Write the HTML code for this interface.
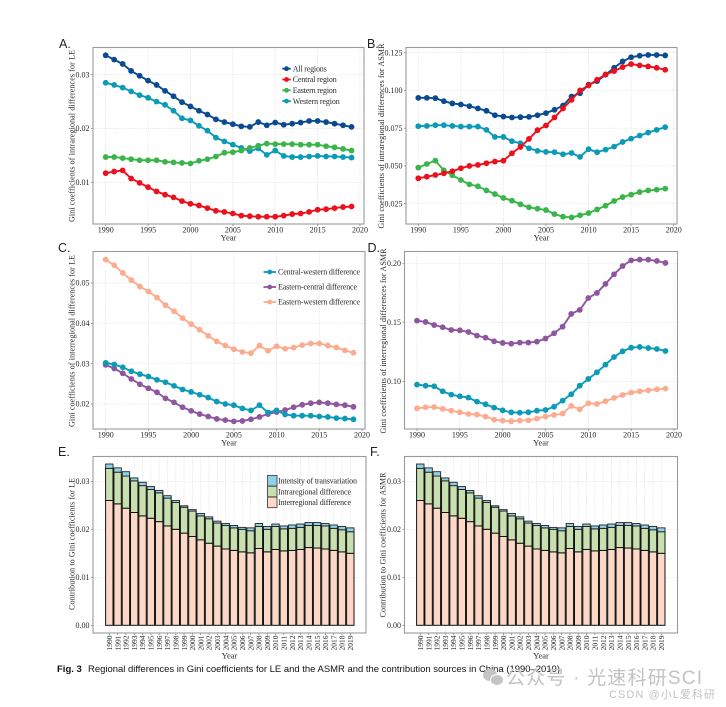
<!DOCTYPE html>
<html lang="en">
<head>
<meta charset="utf-8">
<title>Regional differences in Gini coefficients</title>
<style>
html,body{margin:0;padding:0;background:#fff;width:726px;height:707px;overflow:hidden}
svg{display:block}
text{font-family:"Liberation Serif","Noto Serif CJK SC",serif;fill:#2a2a2a;font-size:8px}
.lab{font-family:"Liberation Sans",sans-serif;font-size:12.5px;fill:#222}
.cap{font-family:"Liberation Sans",sans-serif;font-size:9.5px;fill:#111}
.wm{font-family:"Liberation Sans","Noto Sans CJK SC",sans-serif;fill:#c2c2c2}
</style>
</head>
<body>
<svg id="chart" xmlns="http://www.w3.org/2000/svg" width="726" height="707" viewBox="0 0 726 707">
<rect width="726" height="707" fill="#fff"/>
<g id="plots"></g>

<text class="cap" x="57" y="672" style="font-weight:700">Fig. 3</text>
<text class="cap" x="88" y="672" textLength="472" lengthAdjust="spacingAndGlyphs">Regional differences in Gini coefficients for LE and the ASMR and the contribution sources in China (1990–2019)</text>

<g fill="#c4c4c4">
<ellipse cx="490" cy="675" rx="7" ry="6"/>
<ellipse cx="497" cy="680" rx="6.5" ry="5.5" stroke="#fff" stroke-width="1"/>
</g>
<text class="wm" x="506" y="684" style="font-size:19px" textLength="196" lengthAdjust="spacing">公众号 · 光速科研SCI</text>
<text class="wm" x="609" y="698" style="font-size:11px" textLength="106" lengthAdjust="spacing">CSDN @小L爱科研</text>
</svg>

<script>
const years = [1990,1991,1992,1993,1994,1995,1996,1997,1998,1999,2000,2001,2002,2003,2004,2005,2006,2007,2008,2009,2010,2011,2012,2013,2014,2015,2016,2017,2018,2019];
const xTickYears = [1990,1995,2000,2005,2010,2015,2020];

/* Panel A */
const aAll = [.0336,.0328,.0320,.0307,.0298,.0289,.0281,.0270,.0260,.0249,.0241,.0233,.0226,.0217,.0212,.0208,.0204,.0203,.0212,.0206,.0211,.0207,.0209,.0211,.0214,.0214,.0212,.0209,.0206,.0203];
const aCentral = [.0117,.0120,.0122,.0107,.0099,.0091,.0083,.0077,.0072,.0065,.0060,.0057,.0052,.0047,.0045,.0042,.0038,.0037,.0036,.0036,.0036,.0038,.0041,.0042,.0045,.0049,.0050,.0052,.0054,.0055];
const aEastern = [.0147,.0147,.0145,.0143,.0141,.0141,.0141,.0138,.0137,.0136,.0135,.0140,.0143,.0148,.0155,.0156,.0159,.0164,.0168,.0172,.0171,.0171,.0171,.0170,.0170,.0170,.0167,.0165,.0162,.0159];
const aWestern = [.0285,.0281,.0276,.0269,.0262,.0257,.0250,.0244,.0233,.0219,.0215,.0205,.0196,.0183,.0176,.0170,.0164,.0158,.0163,.0151,.0159,.0149,.0147,.0147,.0148,.0149,.0148,.0148,.0147,.0146];
const aTicks = [.01,.02,.03];
const aTickLabels = ['0.01','0.02','0.03'];

/* Panel B */
const bAll = [.0951,.0951,.0949,.0929,.0914,.0907,.0896,.0881,.0865,.0836,.0827,.0821,.0823,.0825,.0836,.0850,.0872,.0900,.0960,.0982,.1038,.1062,.1104,.1150,.1192,.1220,.1230,.1235,.1235,.1232];
const bCentral = [.0418,.0429,.0440,.0451,.0465,.0485,.0500,.0507,.0518,.0529,.0535,.0584,.0626,.0679,.0737,.0768,.0821,.0881,.0938,.1000,.1033,.1071,.1106,.1128,.1155,.1175,.1166,.1159,.1150,.1137];
const bEastern = [.0489,.0513,.0535,.0471,.0438,.0407,.0378,.0365,.0338,.0314,.0288,.0270,.0246,.0226,.0217,.0208,.0181,.0164,.0159,.0173,.0188,.0212,.0237,.0268,.0294,.0310,.0327,.0338,.0343,.0350];
const bWestern = [.0763,.0765,.0770,.0770,.0765,.0761,.0761,.0761,.0739,.0692,.0692,.0664,.0650,.0617,.0600,.0593,.0591,.0577,.0586,.0560,.0611,.0591,.0608,.0628,.0659,.0681,.0701,.0721,.0739,.0757];
const bTicks = [.025,.05,.075,.1,.125];
const bTickLabels = ['0.025','0.050','0.075','0.100','0.125'];

/* Panel C */
const cCentralWestern = [.0302,.0298,.0291,.0281,.0274,.0268,.0260,.0254,.0245,.0236,.0230,.0223,.0216,.0206,.0200,.0197,.0189,.0184,.0197,.0179,.0184,.0174,.0171,.0171,.0171,.0169,.0168,.0165,.0164,.0162];
const cEasternCentral = [.0297,.0288,.0276,.0262,.0249,.0239,.0229,.0214,.0204,.0192,.0183,.0175,.0169,.0163,.0160,.0157,.0158,.0162,.0168,.0175,.0180,.0185,.0192,.0198,.0202,.0204,.0202,.0199,.0197,.0193];
const cEasternWestern = [.0558,.0544,.0525,.0507,.0491,.0479,.0464,.0445,.0430,.0413,.0398,.0384,.0369,.0355,.0345,.0336,.0329,.0326,.0345,.0332,.0343,.0337,.0340,.0346,.0350,.0350,.0345,.0340,.0333,.0327];
const cTicks = [.02,.03,.04,.05];
const cTickLabels = ['0.02','0.03','0.04','0.05'];

/* Panel D */
const dEasternCentral = [.1514,.1503,.1477,.1458,.1435,.1432,.1418,.1387,.1370,.1339,.1325,.1319,.1328,.1328,.1336,.1362,.1407,.1463,.1571,.1605,.1706,.1749,.1825,.1907,.1977,.2025,.2031,.2031,.2020,.2003];
const dCentralWestern = [.0972,.0963,.0958,.0915,.0887,.0873,.0862,.0828,.0805,.0777,.0754,.0737,.0734,.0737,.0751,.0757,.0785,.0836,.0890,.0963,.1020,.1076,.1141,.1206,.1254,.1285,.1291,.1282,.1274,.1257];
const dEasternWestern = [.0771,.0780,.0782,.0766,.0751,.0737,.0723,.0718,.0701,.0675,.0667,.0661,.0667,.0669,.0684,.0701,.0715,.0726,.0791,.0763,.0814,.0808,.0831,.0859,.0884,.0904,.0915,.0924,.0932,.0938];
const dTicks = [.1,.15,.2];
const dTickLabels = ['0.10','0.15','0.20'];

/* Panels E and F: stacked contributions */
const eInter = [.0260,.0253,.0244,.0235,.0228,.0223,.0216,.0207,.0200,.0192,.0185,.0178,.0171,.0165,.0159,.0156,.0153,.0151,.0160,.0153,.0158,.0155,.0156,.0158,.0162,.0161,.0159,.0156,.0153,.0150];
const eIntra = [.0067,.0066,.0067,.0066,.0063,.0060,.0060,.0058,.0056,.0054,.0053,.0050,.0051,.0048,.0049,.0047,.0047,.0046,.0046,.0047,.0048,.0046,.0046,.0046,.0046,.0047,.0048,.0046,.0046,.0045];
const eTrans = [.0009,.0009,.0009,.0006,.0007,.0006,.0005,.0005,.0004,.0003,.0003,.0005,.0004,.0004,.0004,.0005,.0004,.0006,.0006,.0006,.0005,.0006,.0007,.0007,.0006,.0006,.0005,.0007,.0007,.0008];
const fInter = [.0260,.0253,.0244,.0235,.0228,.0223,.0216,.0207,.0200,.0192,.0185,.0178,.0171,.0165,.0159,.0156,.0153,.0151,.0160,.0153,.0158,.0155,.0156,.0158,.0162,.0161,.0159,.0156,.0153,.0150];
const fIntra = [.0067,.0066,.0067,.0066,.0063,.0060,.0060,.0058,.0056,.0054,.0053,.0050,.0051,.0048,.0049,.0047,.0047,.0046,.0046,.0047,.0048,.0046,.0046,.0046,.0046,.0047,.0048,.0046,.0046,.0045];
const fTrans = [.0009,.0009,.0009,.0006,.0007,.0006,.0005,.0005,.0004,.0003,.0003,.0005,.0004,.0004,.0004,.0005,.0004,.0006,.0006,.0006,.0005,.0006,.0007,.0007,.0006,.0006,.0005,.0007,.0007,.0008];
const stackTicks = [0,.01,.02,.03];
const stackTickLabels = ['0.00','0.01','0.02','0.03'];

const COL = {all:'#0a4a90',central:'#ec0f1c',eastern:'#39b54a',western:'#0c9bb6',purple:'#8e569f',salmon:'#fcab8e',inter:'#fdd8c7',intra:'#c8e0b0',trans:'#8ed2ea'};
const root = document.getElementById('plots');
const NS = 'http://www.w3.org/2000/svg';

function make(parent, tag, attrs, name) {
  const el = document.createElementNS(NS, tag);
  for (const k in attrs) el.setAttribute(k, attrs[k]);
  
  
  parent.appendChild(el);
  return el;
}
function label(parent, str, attrs, name) {
  const t = make(parent, 'text', attrs, name);
  t.textContent = str;
  return t;
}
function linearScale(v0, p0, v1, p1) {
  return v => p0 + (v - v0) * (p1 - p0) / (v1 - v0);
}

function frame(g, box, id) {
  make(g, 'rect', {x:box.l, y:box.t, width:box.r-box.l, height:box.b-box.t, fill:'#fff'}, id + '-plot-area');
}
function border(g, box, id) {
  make(g, 'rect', {x:box.l, y:box.t, width:box.r-box.l, height:box.b-box.t, fill:'none', stroke:'#9a9a9a', 'stroke-width':1.1}, id + '-panel-border');
}
function gridLine(g, x1, y1, x2, y2, name) {
  make(g, 'line', {x1, y1, x2, y2, stroke:'#dcdcdc', 'stroke-width':0.7, 'stroke-dasharray':'1 1.2'}, name);
}
function yAxis(g, box, y, ticks, labels, id) {
  ticks.forEach((v, i) => {
    gridLine(g, box.l, y(v), box.r, y(v), id + '-y-grid');
    make(g, 'line', {x1:box.l-2, y1:y(v), x2:box.l, y2:y(v), stroke:'#777', 'stroke-width':0.7}, id + '-y-tick');
    label(g, labels[i], {x:box.l-3.5, y:y(v)+2.7, 'text-anchor':'end'}, id + '-y-tick-label');
  });
}
function yTitle(g, cfg, id) {
  label(g, cfg.text, {transform:'translate(' + cfg.x + ',' + cfg.cy + ') rotate(-90)', 'text-anchor':'middle', textLength:cfg.len, lengthAdjust:'spacing'}, id + '-y-axis-title');
}
function panelLetter(g, cfg, id) {
  label(g, cfg.text, {x:cfg.x, y:cfg.y, class:'lab'}, id + '-panel-label');
}

function linePanel(cfg) {
  const g = make(root, 'g', {}, cfg.id);
  const box = cfg.box;
  frame(g, box, cfg.id);
  const x = linearScale(xTickYears[0], cfg.x0, xTickYears[xTickYears.length-1], cfg.x1);
  const y = linearScale(cfg.yA[0], cfg.yA[1], cfg.yB[0], cfg.yB[1]);
  xTickYears.forEach(yr => {
    gridLine(g, x(yr), box.t, x(yr), box.b, cfg.id + '-x-grid');
    make(g, 'line', {x1:x(yr), y1:box.b, x2:x(yr), y2:box.b+2, stroke:'#777', 'stroke-width':0.7}, cfg.id + '-x-tick');
    label(g, String(yr), {x:x(yr), y:box.b+8.5, 'text-anchor':'middle'}, cfg.id + '-x-tick-label');
  });
  yAxis(g, box, y, cfg.ticks, cfg.tickLabels, cfg.id);
  cfg.series.forEach(s => {
    const sg = make(g, 'g', {}, cfg.id + '-series-' + s.name);
    const pts = s.values.map((v, i) => x(years[i]).toFixed(2) + ',' + y(v).toFixed(2)).join(' ');
    make(sg, 'polyline', {points:pts, fill:'none', stroke:s.color, 'stroke-width':1.9, 'stroke-linejoin':'round'}, cfg.id + '-line-' + s.name);
    s.values.forEach((v, i) => {
      make(sg, 'circle', {cx:x(years[i]), cy:y(v), r:2.9, fill:s.color}, cfg.id + '-point-' + s.name);
    });
  });
  border(g, box, cfg.id);
  label(g, 'Year', {x:(box.l+box.r)/2, y:box.b+16.5, 'text-anchor':'middle', style:'font-size:8.5px'}, cfg.id + '-x-axis-title');
  yTitle(g, cfg.title, cfg.id);
  panelLetter(g, cfg.letter, cfg.id);
  if (cfg.legend) {
    const L = cfg.legend;
    const lg = make(g, 'g', {}, cfg.id + '-legend');
    L.items.forEach((it, i) => {
      const ly = L.y + i * L.dy;
      make(lg, 'line', {x1:L.x, y1:ly, x2:L.x+L.w, y2:ly, stroke:it.color, 'stroke-width':1.8}, 'legend-key-line');
      make(lg, 'circle', {cx:L.x+L.w/2, cy:ly, r:2.4, fill:it.color}, 'legend-key-point');
      label(lg, it.text, {x:L.x+L.w+2, y:ly+2.7, textLength:it.len, lengthAdjust:'spacing'}, 'legend-entry');
    });
  }
}

function stackPanel(cfg) {
  const g = make(root, 'g', {}, cfg.id);
  const box = cfg.box;
  frame(g, box, cfg.id);
  const x = linearScale(years[0], cfg.x0, years[years.length-1], cfg.x1);
  const y = linearScale(0, cfg.y0, .03, cfg.y3);
  const bw = 7.4;
  years.forEach(yr => {
    gridLine(g, x(yr), box.t, x(yr), box.b, cfg.id + '-x-grid');
  });
  yAxis(g, box, y, stackTicks, stackTickLabels, cfg.id);
  years.forEach((yr, i) => {
    const a = cfg.inter[i], b = a + cfg.intra[i], c = b + cfg.trans[i];
    const bg = make(g, 'g', {}, cfg.id + '-bar-' + yr);
    make(bg, 'rect', {x:x(yr)-bw/2, y:y(a), width:bw, height:y(0)-y(a), fill:COL.inter, stroke:'#111', 'stroke-width':1}, cfg.id + '-bar-interregional');
    make(bg, 'rect', {x:x(yr)-bw/2, y:y(b), width:bw, height:y(a)-y(b), fill:COL.intra, stroke:'#111', 'stroke-width':1}, cfg.id + '-bar-intraregional');
    make(bg, 'rect', {x:x(yr)-bw/2, y:y(c), width:bw, height:y(b)-y(c), fill:COL.trans, stroke:'#222', 'stroke-width':0.9}, cfg.id + '-bar-transvariation');
    make(g, 'line', {x1:x(yr), y1:box.b, x2:x(yr), y2:box.b+2, stroke:'#777', 'stroke-width':0.7}, cfg.id + '-x-tick');
    label(g, String(yr), {transform:'translate(' + (x(yr)+2.7) + ',' + (box.b+2.5) + ') rotate(-90)', 'text-anchor':'end', style:'font-size:7.5px'}, cfg.id + '-x-tick-label');
  });
  border(g, box, cfg.id);
  label(g, 'Year', {x:(box.l+box.r)/2, y:box.b+25.5, 'text-anchor':'middle', style:'font-size:8.5px'}, cfg.id + '-x-axis-title');
  yTitle(g, cfg.title, cfg.id);
  panelLetter(g, cfg.letter, cfg.id);
  if (cfg.legend) {
    const lg = make(g, 'g', {}, cfg.id + '-legend');
    cfg.legend.forEach((it, i) => {
      const ly = 475.5 + i * 10.8;
      make(lg, 'rect', {x:267.5, y:ly, width:9.5, height:10.5, fill:it.color, stroke:'#555', 'stroke-width':1}, 'legend-swatch');
      label(lg, it.text, {x:278, y:ly+8, textLength:it.len, lengthAdjust:'spacing'}, 'legend-entry');
    });
  }
}

linePanel({
  id:'panel-a', box:{l:93,r:364,t:47.5,b:224}, x0:105.7, x1:360, yA:[.01,182.3], yB:[.03,74.7],
  ticks:aTicks, tickLabels:aTickLabels,
  series:[
    {name:'western',values:aWestern,color:COL.western},
    {name:'eastern',values:aEastern,color:COL.eastern},
    {name:'central',values:aCentral,color:COL.central},
    {name:'all',values:aAll,color:COL.all}
  ],
  title:{text:'Gini coefficients of intraregional differences for LE',x:74.5,cy:136,len:172},
  letter:{text:'A.',x:59,y:48},
  legend:{x:282.3,w:8.4,y:68.7,dy:10.8,items:[
    {text:'All regions',color:COL.all,len:34},
    {text:'Central region',color:COL.central,len:44},
    {text:'Eastern region',color:COL.eastern,len:44},
    {text:'Western region',color:COL.western,len:47}
  ]}
});
linePanel({
  id:'panel-b', box:{l:406,r:677,t:47.5,b:224}, x0:418.3, x1:673.7, yA:[.025,203.7], yB:[.125,52.7],
  ticks:bTicks, tickLabels:bTickLabels,
  series:[
    {name:'western',values:bWestern,color:COL.western},
    {name:'eastern',values:bEastern,color:COL.eastern},
    {name:'all',values:bAll,color:COL.all},
    {name:'central',values:bCentral,color:COL.central}
  ],
  title:{text:'Gini coefficients of intraregional differences for ASMR',x:384,cy:136,len:185},
  letter:{text:'B.',x:367,y:48}
});
linePanel({
  id:'panel-c', box:{l:93,r:365,t:251.5,b:429}, x0:105.7, x1:362, yA:[.02,404], yB:[.05,283],
  ticks:cTicks, tickLabels:cTickLabels,
  series:[
    {name:'eastern-western',values:cEasternWestern,color:COL.salmon},
    {name:'eastern-central',values:cEasternCentral,color:COL.purple},
    {name:'central-western',values:cCentralWestern,color:COL.western}
  ],
  title:{text:'Gini coefficients of interregional differences for LE',x:74.5,cy:341,len:172},
  letter:{text:'C.',x:58,y:252},
  legend:{x:263.5,w:12.5,y:272,dy:15,items:[
    {text:'Central-western difference',color:COL.western,len:82},
    {text:'Eastern-central difference',color:COL.purple,len:79},
    {text:'Eastern-western difference',color:COL.salmon,len:82}
  ]}
});
linePanel({
  id:'panel-d', box:{l:404.5,r:677.5,t:251.5,b:429}, x0:417, x1:674, yA:[.1,381.3], yB:[.2,263.3],
  ticks:dTicks, tickLabels:dTickLabels,
  series:[
    {name:'eastern-western',values:dEasternWestern,color:COL.salmon},
    {name:'central-western',values:dCentralWestern,color:COL.western},
    {name:'eastern-central',values:dEasternCentral,color:COL.purple}
  ],
  title:{text:'Gini coefficients of interregional differences for ASMR',x:386,cy:341,len:185},
  letter:{text:'D.',x:367.5,y:252}
});
stackPanel({
  id:'panel-e', box:{l:93,r:366,t:456.5,b:633}, x0:109.3, x1:350.3, y0:625.3, y3:481.3,
  inter:eInter, intra:eIntra, trans:eTrans,
  title:{text:'Contribution to Gini coefficients for LE',x:74.5,cy:544,len:132},
  letter:{text:'E.',x:58,y:456},
  legend:[
    {text:'Intensity of transvariation',color:COL.trans,len:79},
    {text:'Intraregional difference',color:COL.intra,len:73},
    {text:'Interregional difference',color:COL.inter,len:73}
  ]
});
stackPanel({
  id:'panel-f', box:{l:404.5,r:677.5,t:456.5,b:633}, x0:420.3, x1:661.3, y0:625.3, y3:481.3,
  inter:fInter, intra:fIntra, trans:fTrans,
  title:{text:'Contribution to Gini coefficients for ASMR',x:385.5,cy:545,len:145},
  letter:{text:'F.',x:370,y:456}
});
</script>
</body>
</html>
